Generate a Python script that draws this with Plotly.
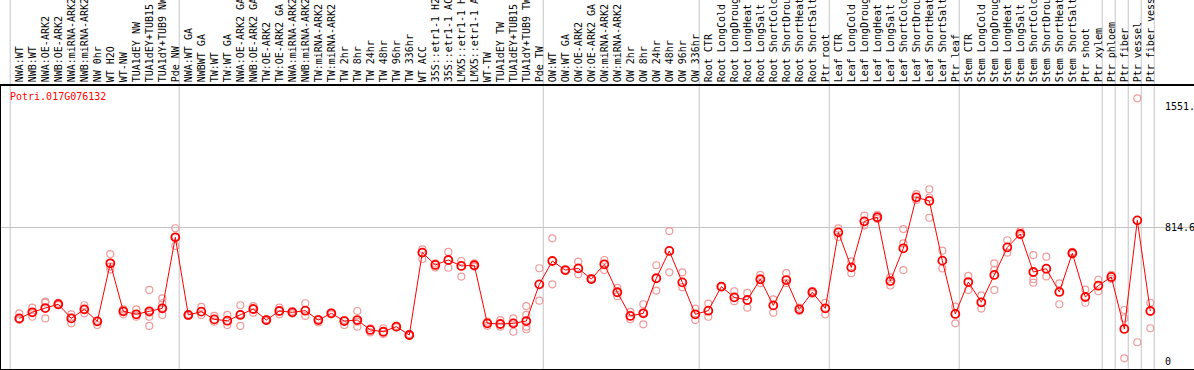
import plotly.graph_objects as go

gene = "Potri.017G076132"

categories = [
    "NWA:WT", "NWB:WT", "NWA:OE-ARK2", "NWB:OE-ARK2", "NWA:miRNA-ARK2", "NWB:miRNA-ARK2",
    "NW 0hr", "WT H2O", "WT-NW", "TUA1dEY NW", "TUA1dEY+TUB15 NW", "TUA1dY+TUB9 NW", "Pde NW",
    "NWA:WT GA", "NWBWT GA", "TW:WT", "TW:WT GA", "NWA:OE-ARK2 GA", "NWB:OE-ARK2 GA",
    "TW:OE-ARK2", "TW:OE-ARK2 GA", "NWA:miRNA-ARK2", "NWB:miRNA-ARK2", "TW:miRNA-ARK2",
    "TW:miRNA-ARK2", "TW 2hr", "TW 8hr", "TW 24hr", "TW 48hr", "TW 96hr", "TW 336hr",
    "WT ACC", "35S::etr1-1 H2O", "35S::etr1-1 ACC", "LMX5::etr1-1 H2O", "LMX5::etr1-1 ACC",
    "WT-TW", "TUA1dEY TW", "TUA1dEY+TUB15 TW", "TUA1dY+TUB9 TW", "Pde TW",
    "OW:WT", "OW:WT GA", "OW:OE-ARK2", "OW:OE-ARK2 GA", "OW:miRNA-ARK2", "OW:miRNA-ARK2",
    "OW 2hr", "OW 8hr", "OW 24hr", "OW 48hr", "OW 96hr", "OW 336hr",
    "Root CTR", "Root LongCold", "Root LongDrought", "Root LongHeat", "Root LongSalt",
    "Root ShortCold", "Root ShortDrought", "Root ShortHeat", "Root ShortSalt", "Ptr root",
    "Leaf CTR", "Leaf LongCold", "Leaf LongDrought", "Leaf LongHeat", "Leaf LongSalt",
    "Leaf ShortCold", "Leaf ShortDrought", "Leaf ShortHeat", "Leaf ShortSalt", "Ptr leaf",
    "Stem CTR", "Stem LongCold", "Stem LongDrought", "Stem LongHeat", "Stem LongSalt",
    "Stem ShortCold", "Stem ShortDrought", "Stem ShortHeat", "Stem ShortSalt", "Ptr shoot",
    "Ptr xylem", "Ptr phloem", "Ptr fiber", "Ptr vessel", "Ptr fiber vessel",
]

means = [
    265, 302, 328, 351, 265, 320, 247, 600, 308, 290, 308, 326, 758,
    286, 306, 259, 251, 286, 322, 255, 310, 302, 312, 255, 296, 249, 255, 195, 184, 215, 164,
    665, 590, 620, 584, 588, 235, 231, 235, 249, 472,
    614, 559, 569, 504, 594, 424, 280, 296, 509, 675, 484, 290,
    312, 458, 393, 377, 503, 344, 498, 320, 424, 326,
    788, 575, 855, 880, 492, 691, 1001, 979, 616, 292,
    486, 363, 529, 697, 778, 547, 567, 426, 661, 395,
    464, 517, 201, 861, 310,
]

replicates = [
    [296, 255, 265], [330, 275, 302], [367, 361, 265], [360, 345], [290, 235, 270],
    [345, 296, 320], [225, 250], [656, 563, 580], [320, 290, 310], [320, 275],
    [438, 275, 219, 300], [387, 357, 286, 330], [813, 705, 760], [290, 280], [335, 285],
    [280, 245], [286, 225], [345, 219, 290], [340, 300], [260, 250], [330, 290],
    [310, 295], [357, 280], [240, 260], [300, 290], [225, 255], [310, 215, 245],
    [205, 180], [205, 170], [220, 210], [170, 160], [685, 626], [575, 600],
    [669, 573], [614, 519], [600, 580], [220, 245], [255, 215], [265, 184, 240],
    [340, 286, 215, 199], [570, 373], [752, 472], [560, 555], [610, 533], [500, 510],
    [620, 559], [450, 400], [305, 260], [351, 229, 300], [588, 434], [796, 545],
    [545, 455], [325, 255], [355, 275], [460, 455], [430, 370], [420, 330],
    [530, 480], [381, 300], [540, 480], [330, 310], [430, 415], [360, 290],
    [812, 760], [612, 540], [890, 830], [895, 870], [515, 465], [808, 721, 559],
    [1020, 985], [1050, 877, 1000], [677, 569], [336, 235], [523, 438], [405, 325],
    [600, 438, 560], [740, 665], [795, 770], [650, 503, 482], [640, 520], [478, 351],
    [670, 655], [440, 360], [500, 430], [530, 505], [316, 266, 22], [1603, 120],
    [360, 205],
]

group_starts = [0, 13, 41, 53, 63, 73, 84, 85, 86, 87, 88]

ytick_vals = [0, 814.6, 1551.9]
ytick_text = ["0", "814.6", "1551."]

FONT = "DejaVu Sans Mono"
RED = "#ff0000"
PINK = "#f09a9a"

x_idx = list(range(len(categories)))
rep_x, rep_y = [], []
for i, reps in enumerate(replicates):
    for v in reps:
        rep_x.append(i)
        rep_y.append(v)

fig = go.Figure()
fig.add_trace(go.Scatter(
    x=rep_x, y=rep_y, mode="markers",
    marker=dict(symbol="circle-open", size=7, color=PINK, line=dict(width=1.2, color=PINK)),
    hoverinfo="skip", showlegend=False,
))
fig.add_trace(go.Scatter(
    x=x_idx, y=means, mode="lines+markers",
    line=dict(color=RED, width=1),
    marker=dict(symbol="circle-open", size=8, color=RED, line=dict(width=1.8, color=RED)),
    showlegend=False,
))

shapes = []
for g in group_starts:
    shapes.append(dict(type="line", xref="x", yref="paper", x0=g - 0.7, x1=g - 0.7,
                       y0=0, y1=1.32, line=dict(color="#c4c4c4", width=1), layer="below"))
fig.update_layout(shapes=shapes)

annotations = [dict(text=gene, xref="x", yref="y", x=-0.87, y=1611, xanchor="left",
                    yanchor="middle", showarrow=False, font=dict(family=FONT, size=10, color=RED))]
for v, t in zip(ytick_vals, ytick_text):
    annotations.append(dict(text=t, xref="x", yref="y", x=87.98, y=v, xanchor="left",
                            yanchor="middle", showarrow=False,
                            font=dict(family=FONT, size=10, color="black")))
fig.update_layout(annotations=annotations)

fig.update_layout(
    width=1194, height=370,
    margin=dict(l=1, r=0, t=86, b=1, pad=0),
    paper_bgcolor="white", plot_bgcolor="rgba(0,0,0,0)",
    font=dict(family=FONT, size=10, color="black"),
    xaxis=dict(
        range=[-1.408, 90.36], side="top", tickmode="array", tickvals=x_idx,
        ticktext=categories, tickangle=-90, ticks="", showgrid=False, zeroline=False,
        showline=True, linecolor="black", linewidth=1.5, mirror=True,
        tickfont=dict(family=FONT, size=10, color="black"), automargin=False,
    ),
    yaxis=dict(
        range=[-42.6, 1677.8], tickmode="array", tickvals=[814.6], showticklabels=False,
        showgrid=True, gridcolor="#c4c4c4", gridwidth=1, zeroline=False, ticks="",
        showline=True, linecolor="black", linewidth=1.5, mirror=True, automargin=False,
    ),
)

fig.write_html(
    "out.html",
    config={"displayModeBar": False},
    post_script="document.body.style.margin='0px';document.body.style.overflow='hidden';",
)
